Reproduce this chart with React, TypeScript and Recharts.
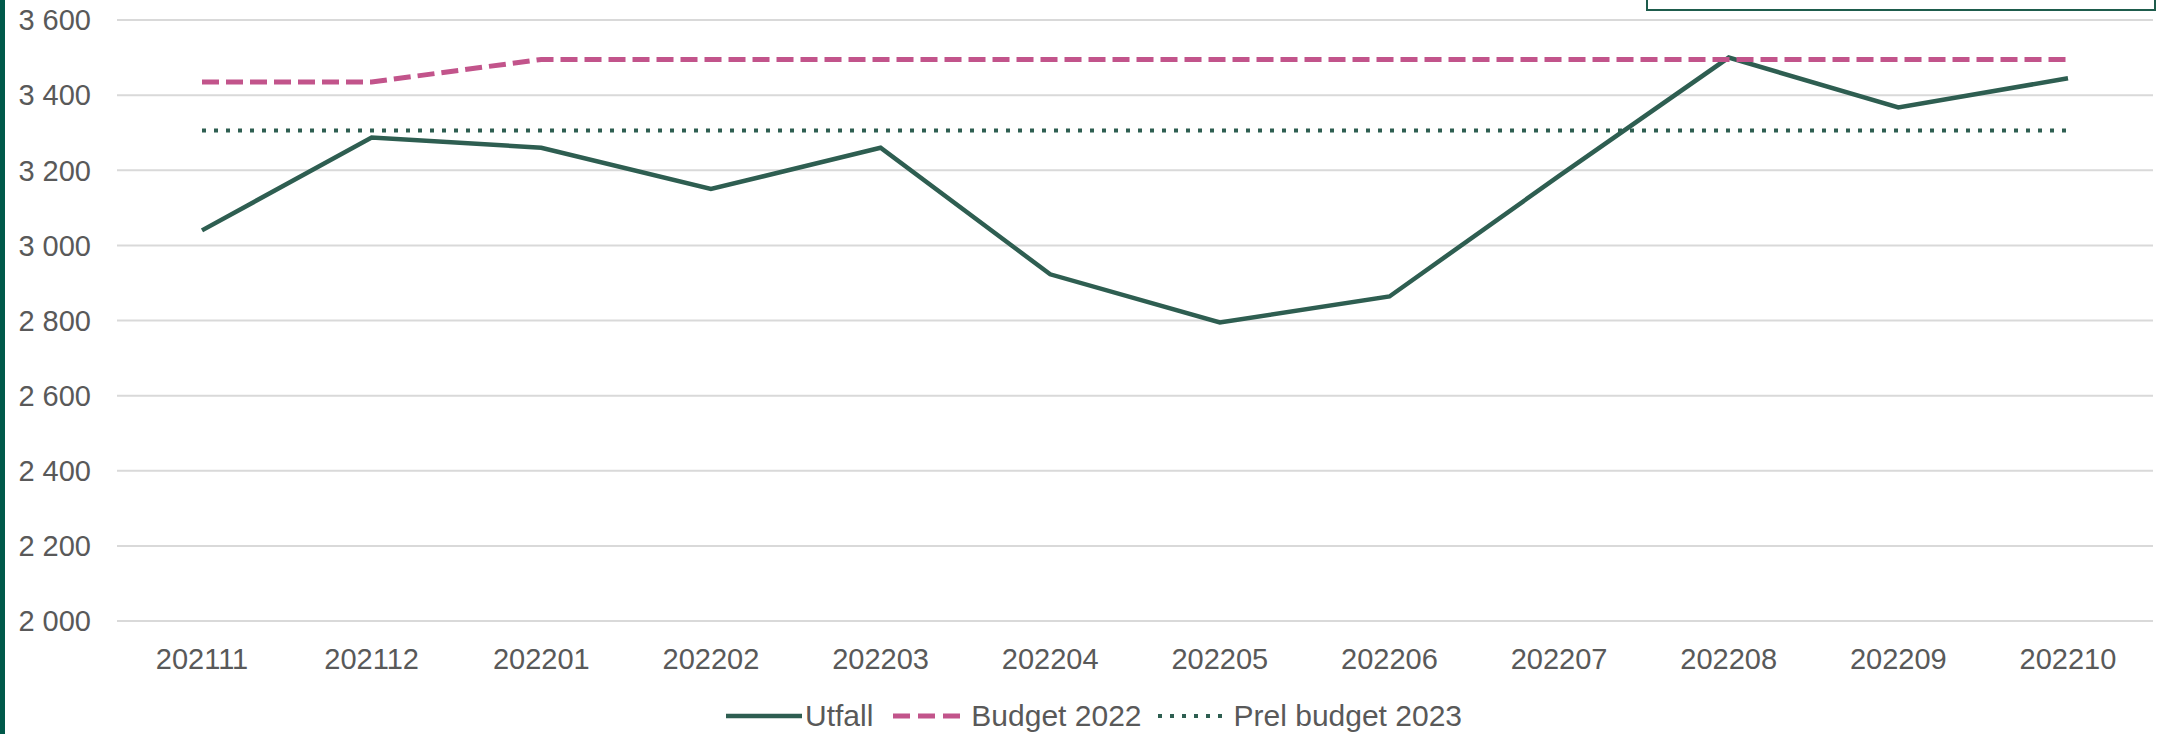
import React from 'react';
import { LineChart, Line, XAxis, YAxis, CartesianGrid, Legend } from 'recharts';

const categories = ['202111', '202112', '202201', '202202', '202203', '202204', '202205', '202206', '202207', '202208', '202209', '202210'];
const utfall = [3040, 3287, 3260, 3150, 3260, 2923, 2795, 2864, 3185, 3500, 3367, 3445];
const budget2022 = [3435, 3435, 3495, 3495, 3495, 3495, 3495, 3495, 3495, 3495, 3495, 3495];
const prelBudget2023 = [3306, 3306, 3306, 3306, 3306, 3306, 3306, 3306, 3306, 3306, 3306, 3306];
const yTicks = [2000, 2200, 2400, 2600, 2800, 3000, 3200, 3400, 3600];
const seriesNames = ['Utfall', 'Budget 2022', 'Prel budget 2023'];

const GREEN = '#2E5E51';
const PINK = '#C2548B';
const FONT = '"Liberation Sans", Arial, sans-serif';
const TEXT = '#595959';

const data = categories.map((c, i) => ({
  month: c,
  utfall: utfall[i],
  budget: budget2022[i],
  prel: prelBudget2023[i],
}));

const fmt = (v: number) => {
  const th = Math.floor(v / 1000);
  const rest = String(v % 1000).padStart(3, '0');
  return th > 0 ? `${th} ${rest}` : String(v);
};

const renderLegend = () => (
  <div
    style={{
      display: 'flex',
      alignItems: 'center',
      height: 30,
      lineHeight: '30px',
      paddingLeft: 726,
      fontFamily: FONT,
      fontSize: 30,
      color: TEXT,
      whiteSpace: 'nowrap',
    }}
  >
    <svg width={76} height={10} style={{ display: 'block' }}>
      <line x1={0} y1={5} x2={76} y2={5} stroke={GREEN} strokeWidth={4.5} />
    </svg>
    <span style={{ marginLeft: 3 }}>{seriesNames[0]}</span>
    <svg width={67} height={10} style={{ display: 'block', marginLeft: 20 }}>
      <line x1={0} y1={5} x2={67} y2={5} stroke={PINK} strokeWidth={5} strokeDasharray="17 8" />
    </svg>
    <span style={{ marginLeft: 11 }}>{seriesNames[1]}</span>
    <svg width={70} height={10} style={{ display: 'block', marginLeft: 14 }}>
      <line x1={2} y1={5} x2={70} y2={5} stroke={GREEN} strokeWidth={4} strokeDasharray="4 8" />
    </svg>
    <span style={{ marginLeft: 8 }}>{seriesNames[2]}</span>
  </div>
);

export default function App() {
  return (
    <div
      style={{
        position: 'absolute',
        left: 0,
        top: 0,
        width: 2160,
        height: 734,
        background: '#ffffff',
        overflow: 'hidden',
      }}
    >
      <div style={{ position: 'absolute', left: 0, top: 0, width: 5, height: 734, background: '#00594A' }} />
      <div
        style={{
          position: 'absolute',
          left: 1646,
          top: -20,
          width: 506,
          height: 27,
          border: '2px solid #1E5C4C',
          background: '#ffffff',
        }}
      />
      <LineChart
        width={2160}
        height={734}
        data={data}
        margin={{ top: 20, right: 7, left: 0, bottom: 3 }}
        style={{ fontFamily: FONT }}
      >
        <CartesianGrid horizontal vertical={false} stroke="#D9D9D9" strokeWidth={2} />
        <XAxis
          dataKey="month"
          axisLine={false}
          tickLine={false}
          tickSize={0}
          tickMargin={27}
          height={80}
          padding={{ left: 85, right: 85 }}
          interval={0}
          tick={{ fill: TEXT, fontSize: 29, fontFamily: FONT }}
        />
        <YAxis
          domain={[2000, 3600]}
          ticks={yTicks}
          width={117}
          axisLine={false}
          tickLine={false}
          tickSize={0}
          tickMargin={26}
          interval={0}
          tickFormatter={fmt}
          tick={{ fill: TEXT, fontSize: 29, fontFamily: FONT }}
        />
        <Legend
          verticalAlign="bottom"
          content={renderLegend}
          wrapperStyle={{ left: 0, width: 2160 }}
        />
        <Line
          type="linear"
          dataKey="utfall"
          name={seriesNames[0]}
          stroke={GREEN}
          strokeWidth={4.5}
          dot={false}
          activeDot={false}
          isAnimationActive={false}
        />
        <Line
          type="linear"
          dataKey="budget"
          name={seriesNames[1]}
          stroke={PINK}
          strokeWidth={5}
          strokeDasharray="17 7"
          dot={false}
          activeDot={false}
          isAnimationActive={false}
        />
        <Line
          type="linear"
          dataKey="prel"
          name={seriesNames[2]}
          stroke={GREEN}
          strokeWidth={4}
          strokeDasharray="4 8"
          dot={false}
          activeDot={false}
          isAnimationActive={false}
        />
      </LineChart>
    </div>
  );
}
